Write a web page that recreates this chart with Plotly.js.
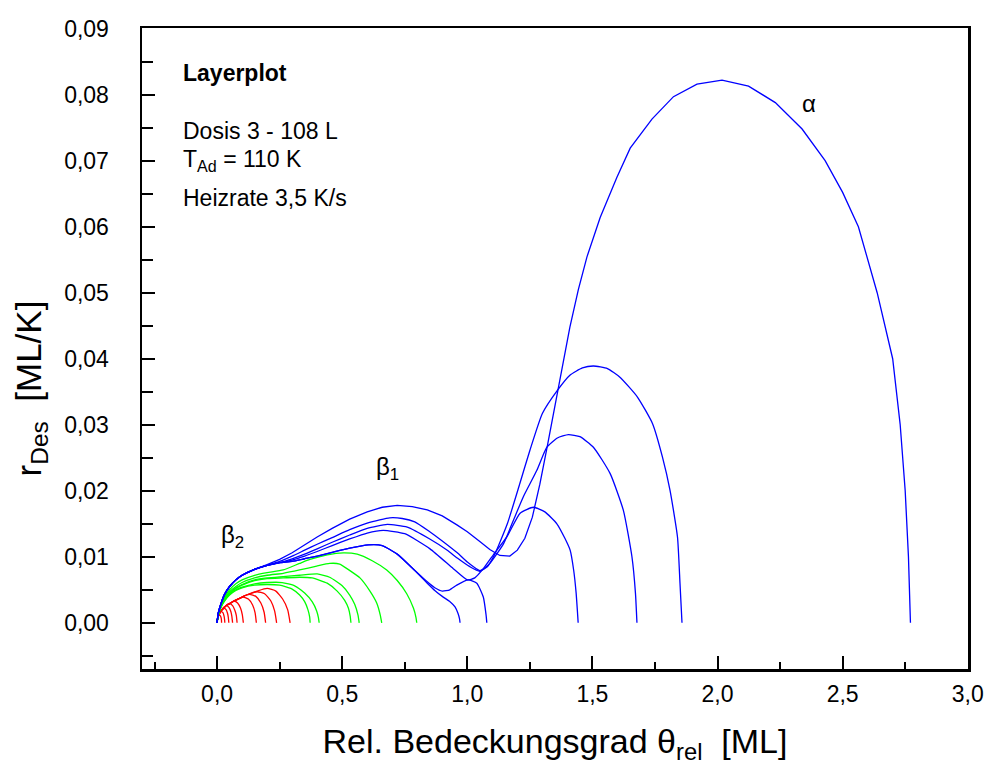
<!DOCTYPE html>
<html>
<head>
<meta charset="utf-8">
<script src="https://cdn.plot.ly/plotly-3.0.1.min.js"></script>
<style>html,body{margin:0;padding:0;background:#fff;}#chart{width:989px;height:771px;}</style>
</head>
<body>
<div id="chart"></div>
<script>
// ---- data (theta_rel [ML], r_Des [ML/K]) ----
// red curves (low doses)
const r1X = [0,0.002,0.005,0.010,0.014,0.0165,0.0176,0.018];
const r1Y = [0,0.0006,0.0010,0.0012,0.0010,0.0007,0.0004,0];
const r2X = [0,0.002,0.006,0.012,0.018,0.024,0.028,0.030,0.031];
const r2Y = [0,0.0006,0.0011,0.0015,0.0017,0.0015,0.0010,0.0005,0];
const r3X = [0,0.002,0.006,0.012,0.02,0.028,0.036,0.042,0.045,0.047];
const r3Y = [0,0.0006,0.0011,0.0016,0.0020,0.0022,0.0020,0.0014,0.0008,0];
const r4X = [0,0.002,0.006,0.012,0.02,0.03,0.038,0.048,0.055,0.059,0.062];
const r4Y = [0,0.0006,0.0011,0.0016,0.0020,0.0024,0.0026,0.0023,0.0017,0.0010,0];
const r5X = [0,0.002,0.006,0.012,0.02,0.03,0.04,0.05,0.062,0.071,0.077,0.080];
const r5Y = [0,0.0006,0.0011,0.0016,0.0020,0.0024,0.0027,0.0029,0.0026,0.0019,0.0011,0];
const r6X = [0,0.002,0.006,0.012,0.02,0.03,0.04,0.05,0.068,0.082,0.094,0.101,0.105];
const r6Y = [0,0.0006,0.0011,0.0016,0.0020,0.0024,0.0027,0.0029,0.0033,0.0030,0.0022,0.0012,0];
const r7X = [0,0.002,0.006,0.012,0.02,0.03,0.04,0.05,0.068,0.09,0.105,0.125,0.142,0.152,0.157];
const r7Y = [0,0.0006,0.0011,0.0016,0.0020,0.0024,0.0027,0.0029,0.0033,0.0037,0.0039,0.0036,0.0027,0.0015,0];
const r8X = [0,0.002,0.006,0.012,0.02,0.03,0.04,0.05,0.068,0.09,0.105,0.13,0.155,0.175,0.188,0.194];
const r8Y = [0,0.0006,0.0011,0.0016,0.0020,0.0024,0.0027,0.0029,0.0033,0.0037,0.0040,0.0043,0.0040,0.0030,0.0016,0];
const r9X = [0,0.002,0.006,0.012,0.02,0.03,0.04,0.05,0.068,0.09,0.105,0.13,0.16,0.19,0.215,0.23,0.238];
const r9Y = [0,0.0006,0.0011,0.0016,0.0020,0.0024,0.0027,0.0029,0.0033,0.0037,0.0040,0.0044,0.0047,0.0044,0.0033,0.0018,0];
const r10X = [0,0.002,0.006,0.012,0.02,0.03,0.04,0.05,0.068,0.09,0.105,0.13,0.16,0.2,0.235,0.262,0.282,0.292];
const r10Y = [0,0.0006,0.0011,0.0016,0.0020,0.0024,0.0027,0.0029,0.0033,0.0037,0.0040,0.0044,0.0048,0.0052,0.0048,0.0036,0.0020,0];

// green curves (medium doses)
const g1X = [0,0.004,0.01,0.02,0.03,0.05,0.075,0.1,0.15,0.2,0.25,0.3,0.33,0.35,0.363,0.37,0.372];
const g1Y = [0,0.0010,0.0018,0.0027,0.0033,0.0042,0.0049,0.0053,0.0057,0.0058,0.0057,0.0051,0.0042,0.0032,0.0020,0.0009,0];
const g2X = [0,0.004,0.01,0.02,0.03,0.05,0.075,0.1,0.15,0.2,0.26,0.31,0.35,0.38,0.398,0.405,0.408];
const g2Y = [0,0.0010,0.0018,0.0027,0.0034,0.0043,0.0050,0.0054,0.0059,0.0061,0.0061,0.0056,0.0045,0.0032,0.0018,0.0008,0];
const g3X = [0,0.004,0.01,0.02,0.03,0.05,0.075,0.1,0.15,0.2,0.264,0.33,0.38,0.44,0.48,0.51,0.525,0.532,0.535];
const g3Y = [0,0.0010,0.0019,0.0028,0.0035,0.0044,0.0052,0.0057,0.0064,0.0067,0.0068,0.0069,0.0068,0.0060,0.0048,0.0034,0.0022,0.0010,0];
const g4X = [0,0.004,0.01,0.02,0.03,0.05,0.075,0.1,0.15,0.2,0.264,0.33,0.4,0.45,0.5,0.53,0.55,0.563,0.568];
const g4Y = [0,0.0010,0.0019,0.0029,0.0036,0.0045,0.0053,0.0058,0.0065,0.0068,0.0070,0.0072,0.0074,0.0069,0.0056,0.0042,0.0028,0.0012,0];
const g5X = [0,0.004,0.01,0.02,0.03,0.05,0.075,0.1,0.15,0.2,0.264,0.33,0.398,0.45,0.49,0.531,0.571,0.611,0.638,0.652,0.658];
const g5Y = [0,0.0011,0.0020,0.0030,0.0037,0.0047,0.0055,0.0061,0.0068,0.0072,0.0075,0.0080,0.0086,0.0090,0.0089,0.0079,0.0068,0.0048,0.0030,0.0012,0];
const g6X = [0,0.004,0.01,0.02,0.03,0.05,0.075,0.1,0.15,0.2,0.264,0.33,0.371,0.44,0.504,0.56,0.62,0.678,0.72,0.758,0.785,0.795,0.798];
const g6Y = [0,0.0011,0.0020,0.0031,0.0039,0.0050,0.0059,0.0065,0.0072,0.0076,0.0080,0.0090,0.0096,0.0103,0.0106,0.0104,0.0094,0.0080,0.0064,0.0044,0.0022,0.0008,0];

// blue curves (high doses, beta2, beta1 and alpha)
const b1X = [0,0.004,0.01,0.02,0.03,0.05,0.075,0.1,0.15,0.2,0.25,0.3,0.35,0.4,0.464,0.53,0.604,0.66,0.72,0.78,0.84,0.87,0.9,0.931,0.951,0.963,0.969,0.971];
const b1Y = [0,0.0013,0.0022,0.0034,0.0043,0.0055,0.0065,0.0072,0.0081,0.0087,0.0091,0.0093,0.0097,0.0101,0.0107,0.0113,0.0118,0.0117,0.0104,0.0083,0.0060,0.0049,0.0040,0.0032,0.0024,0.0014,0.0006,0];
const b2X = [0,0.004,0.01,0.02,0.03,0.05,0.075,0.1,0.15,0.2,0.25,0.3,0.35,0.4,0.464,0.53,0.604,0.66,0.72,0.78,0.84,0.87,0.9,0.93,0.958,1.004,1.038,1.064,1.075,1.078];
const b2Y = [0,0.0013,0.0022,0.0034,0.0043,0.0055,0.0065,0.0072,0.0081,0.0087,0.0091,0.0093,0.0097,0.0101,0.0107,0.0113,0.0118,0.0117,0.0104,0.0083,0.0062,0.0053,0.0048,0.0050,0.0057,0.0065,0.0060,0.0039,0.0012,0];
const b3X = [0,0.004,0.01,0.02,0.03,0.05,0.075,0.1,0.15,0.2,0.25,0.3,0.35,0.4,0.46,0.53,0.6,0.664,0.75,0.851,0.944,1.0,1.03,1.064,1.104,1.158,1.211,1.264,1.31,1.358,1.39,1.411,1.425,1.435,1.441,1.443];
const b3Y = [0,0.0013,0.0022,0.0034,0.0043,0.0055,0.0065,0.0072,0.0081,0.0087,0.0091,0.0095,0.0101,0.0108,0.0117,0.0127,0.0136,0.0140,0.0135,0.0112,0.0082,0.0065,0.0068,0.0082,0.0103,0.0130,0.0166,0.0175,0.0168,0.0150,0.0128,0.0110,0.0080,0.0045,0.0012,0];
const b4X = [0,0.004,0.01,0.02,0.03,0.05,0.075,0.1,0.15,0.2,0.25,0.3,0.35,0.4,0.46,0.53,0.6,0.68,0.76,0.85,0.92,0.96,1.01,1.05,1.09,1.145,1.184,1.224,1.278,1.318,1.36,1.404,1.45,1.504,1.571,1.624,1.658,1.672,1.678];
const b4Y = [0,0.0013,0.0022,0.0034,0.0043,0.0055,0.0065,0.0072,0.0081,0.0087,0.0091,0.0097,0.0104,0.0112,0.0122,0.0133,0.0143,0.0149,0.0145,0.0127,0.0110,0.0098,0.0085,0.0078,0.0090,0.0120,0.0155,0.0191,0.0231,0.0266,0.0280,0.0285,0.0282,0.0266,0.0226,0.0170,0.0100,0.0045,0];
const b5X = [0,0.004,0.01,0.02,0.03,0.05,0.075,0.1,0.15,0.2,0.25,0.3,0.35,0.4,0.46,0.53,0.6,0.65,0.69,0.74,0.79,0.85,0.9,0.96,1.0,1.05,1.08,1.11,1.16,1.21,1.25,1.30,1.36,1.41,1.46,1.504,1.56,1.61,1.68,1.74,1.78,1.81,1.84,1.85,1.858];
const b5Y = [0,0.0013,0.0022,0.0034,0.0043,0.0055,0.0065,0.0072,0.0081,0.0087,0.0093,0.0101,0.0110,0.0119,0.0129,0.0141,0.0151,0.0156,0.0159,0.0158,0.0153,0.0138,0.0124,0.0106,0.0092,0.0079,0.0085,0.0104,0.0150,0.0211,0.0261,0.0317,0.0352,0.0375,0.0386,0.0389,0.0385,0.0372,0.0342,0.0302,0.0251,0.0201,0.0130,0.0060,0];
const b6X = [0,0.004,0.01,0.02,0.03,0.05,0.075,0.1,0.125,0.15,0.2,0.25,0.3,0.35,0.4,0.46,0.53,0.6,0.66,0.72,0.78,0.84,0.9,0.96,1.0,1.05,1.09,1.13,1.17,1.2,1.23,1.26,1.29,1.32,1.35,1.38,1.41,1.444,1.478,1.531,1.598,1.651,1.738,1.824,1.918,2.018,2.124,2.231,2.338,2.43,2.5,2.563,2.638,2.70,2.73,2.75,2.763,2.771];
const b6Y = [0,0.0013,0.0022,0.0034,0.0043,0.0055,0.0065,0.0072,0.0077,0.0081,0.0088,0.0096,0.0106,0.0118,0.0130,0.0143,0.0157,0.0168,0.0175,0.0178,0.0176,0.0171,0.0162,0.0148,0.0138,0.0123,0.0111,0.0102,0.0101,0.0110,0.0128,0.0160,0.0210,0.0268,0.0330,0.0392,0.0448,0.0505,0.0554,0.0614,0.0675,0.0719,0.0763,0.0797,0.0816,0.0822,0.0813,0.0788,0.0748,0.0700,0.0652,0.0600,0.0500,0.0400,0.0300,0.0200,0.0100,0];

// axis ticks
const xTickVals = [0, 0.5, 1.0, 1.5, 2.0, 2.5, 3.0];
const yTickVals = [0, 0.01, 0.02, 0.03, 0.04, 0.05, 0.06, 0.07, 0.08, 0.09];

// texts
const infoTexts = ['<b>Layerplot</b>', 'Dosis 3 - 108 L', 'T<sub>Ad</sub> = 110 K', 'Heizrate 3,5 K/s'];
const peakLabels = ['β<sub>2</sub>', 'β<sub>1</sub>', 'α'];
const xTitle = 'Rel. Bedeckungsgrad θ<sub>rel</sub>  [ML]';
const yTitle = 'r<sub>Des</sub>  [ML/K]';

// ---- build ----
const groups = [
  {color: '#FF0000', smooth: true, sets: [[r1X,r1Y],[r2X,r2Y],[r3X,r3Y],[r4X,r4Y],[r5X,r5Y],[r6X,r6Y],[r7X,r7Y],[r8X,r8Y],[r9X,r9Y],[r10X,r10Y]]},
  {color: '#00FF00', smooth: true, sets: [[g1X,g1Y],[g2X,g2Y],[g3X,g3Y],[g4X,g4Y],[g5X,g5Y],[g6X,g6Y]]},
  {color: '#0000FF', smooth: true, sets: [[b1X,b1Y],[b2X,b2Y],[b3X,b3Y],[b4X,b4Y],[b5X,b5Y]]},
  {color: '#0000FF', smooth: false, sets: [[b6X,b6Y]]}
];
const traces = [];
groups.forEach(g => g.sets.forEach(s => traces.push({
  x: s[0], y: s[1], type: 'scatter', mode: 'lines',
  line: g.smooth ? {color: g.color, width: 1.3, shape: 'spline', smoothing: 0.5}
                 : {color: g.color, width: 1.3, shape: 'linear'},
  hoverinfo: 'x+y', showlegend: false
})));

const FONT = 'Liberation Sans, Arial, Helvetica, sans-serif';
const infoPos = [0.0833, 0.0745, 0.0701, 0.0644];
const annotations = infoTexts.map((t, i) => ({
  text: t, x: -0.145, y: infoPos[i], xref: 'x', yref: 'y', xanchor: 'left', yanchor: 'middle',
  showarrow: false, font: {family: FONT, size: 23, color: '#000'}
}));
const peakPos = [[0.062, 0.0131], [0.68, 0.0233], [2.365, 0.0787]];
peakLabels.forEach((t, i) => annotations.push({
  text: t, x: peakPos[i][0], y: peakPos[i][1], xref: 'x', yref: 'y', xanchor: 'center', yanchor: 'middle',
  showarrow: false, font: {family: FONT, size: 24, color: '#000'}
}));

const layout = {
  width: 989, height: 771,
  margin: {l: 142, r: 21, t: 28, b: 102, pad: 0},
  paper_bgcolor: '#fff', plot_bgcolor: '#fff',
  separators: ', ',
  font: {family: FONT, color: '#000'},
  showlegend: false,
  xaxis: {
    range: [-0.3, 3.001], tickvals: xTickVals, tickformat: '.1f',
    ticks: 'inside', ticklen: 13, tickwidth: 2, tickcolor: '#000',
    minor: {dtick: 0.25, tick0: 0, ticks: 'inside', ticklen: 7, tickwidth: 2, tickcolor: '#000'},
    showline: true, linewidth: 2.5, linecolor: '#000', mirror: true,
    showgrid: false, zeroline: false,
    tickfont: {family: FONT, size: 23, color: '#000'}, ticklabelstandoff: 3,
    title: {text: xTitle, font: {family: FONT, size: 34, color: '#000'}, standoff: 23}
  },
  yaxis: {
    range: [-0.007, 0.0901], tickvals: yTickVals, tickformat: '.2f',
    ticks: 'inside', ticklen: 13, tickwidth: 2, tickcolor: '#000',
    minor: {dtick: 0.005, tick0: 0, ticks: 'inside', ticklen: 11, tickwidth: 2, tickcolor: '#000'},
    showline: true, linewidth: 2.5, linecolor: '#000', mirror: true,
    showgrid: false, zeroline: false,
    tickfont: {family: FONT, size: 23, color: '#000'}, ticklabelstandoff: 26,
    title: {text: yTitle, font: {family: FONT, size: 35, color: '#000'}, standoff: 12}
  },
  annotations: annotations
};

Plotly.newPlot('chart', traces, layout, {displayModeBar: false, staticPlot: true}).then(() => {
  // the reference places the y title below the plot centre; shift it down along the axis
  const t = document.querySelector('.ytitle');
  if (t) t.setAttribute('transform', 'translate(0,40) ' + (t.getAttribute('transform') || ''));
});
</script>
</body>
</html>
